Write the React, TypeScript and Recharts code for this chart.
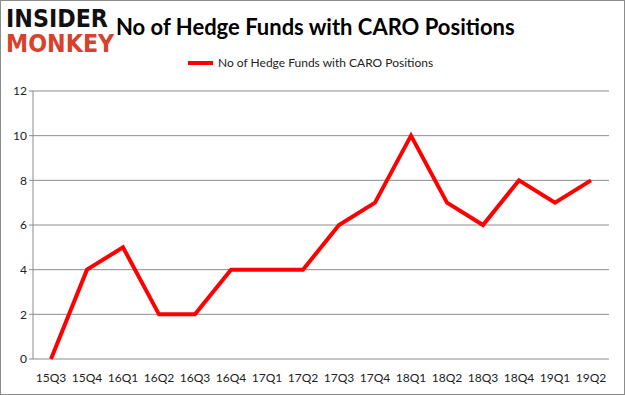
import { LineChart, Line, XAxis, YAxis, CartesianGrid } from 'recharts'

const quarters = ['15Q3', '15Q4', '16Q1', '16Q2', '16Q3', '16Q4', '17Q1', '17Q2', '17Q3', '17Q4', '18Q1', '18Q2', '18Q3', '18Q4', '19Q1', '19Q2']
const funds = [0, 4, 5, 2, 2, 4, 4, 4, 6, 7, 10, 7, 6, 8, 7, 8]
const yTicks = [0, 2, 4, 6, 8, 10, 12]

const seriesName = 'No of Hedge Funds with CARO Positions'
const font = 'Lato, sans-serif'

const data = quarters.map((q, i) => ({ q, idx: i + 0.5, funds: funds[i] }))
const boundaryTicks = [0, ...quarters.map((_, i) => i + 1)]
const centerTicks = data.map((d) => d.idx)

export default function App() {
  return (
    <div
      style={{
        position: 'fixed',
        left: 0,
        top: 0,
        width: 625,
        height: 395,
        boxSizing: 'border-box',
        border: '1px solid #8c8c8c',
        background: '#fff',
        fontFamily: font,
      }}
    >
      <div
        style={{
          position: 'absolute',
          left: 5,
          top: 5,
          lineHeight: '25px',
          fontFamily: '"DejaVu Sans", sans-serif',
          fontWeight: 900,
          fontSize: 25,
          transform: 'scaleX(0.89)',
          transformOrigin: 'left top',
          whiteSpace: 'nowrap',
        }}
      >
        <span style={{ color: '#111' }}>INSIDER</span>
        <br />
        <span style={{ color: '#d9412b' }}>MONKEY</span>
      </div>
      <div
        style={{
          position: 'absolute',
          left: 115,
          top: 12,
          fontSize: 22,
          fontWeight: 'bold',
          fontFamily: 'Lato, sans-serif',
          color: '#000',
          whiteSpace: 'nowrap',
        }}
      >
        {seriesName}
      </div>
      <div style={{ position: 'absolute', left: 187, top: 54, display: 'flex', alignItems: 'center', fontSize: 12, color: '#222', whiteSpace: 'nowrap' }}>
        <span style={{ display: 'inline-block', width: 25, height: 4, background: '#ff0000', marginRight: 5 }} />
        <span>{seriesName}</span>
      </div>
      <LineChart width={625} height={395} data={data} margin={{ top: 91, right: 16, bottom: 10, left: 8 }} style={{ position: 'absolute', left: -1, top: -1 }}>
        <CartesianGrid vertical={false} stroke="#8c8c8c" strokeWidth={1} />
        <XAxis
          xAxisId="num"
          dataKey="idx"
          type="number"
          domain={[0, 16]}
          ticks={boundaryTicks}
          tick={false}
          tickSize={4}
          stroke="#8c8c8c"
          height={0}
        />
        <XAxis
          xAxisId="lab"
          dataKey="idx"
          type="number"
          domain={[0, 16]}
          ticks={centerTicks}
          interval={0}
          tickFormatter={(v: number) => quarters[Math.floor(v)]}
          tickLine={false}
          axisLine={false}
          height={26}
          tickMargin={8}
          tick={{ fontSize: 12, fill: '#222', fontFamily: font }}
        />
        <YAxis
          domain={[0, 12]}
          ticks={yTicks}
          width={25}
          tickSize={4}
          stroke="#8c8c8c"
          tick={{ fontSize: 12, fill: '#222', fontFamily: font }}
        />
        <Line
          xAxisId="num"
          dataKey="funds"
          type="linear"
          stroke="#ff0000"
          strokeWidth={4}
          dot={false}
          isAnimationActive={false}
        />
      </LineChart>
    </div>
  )
}
